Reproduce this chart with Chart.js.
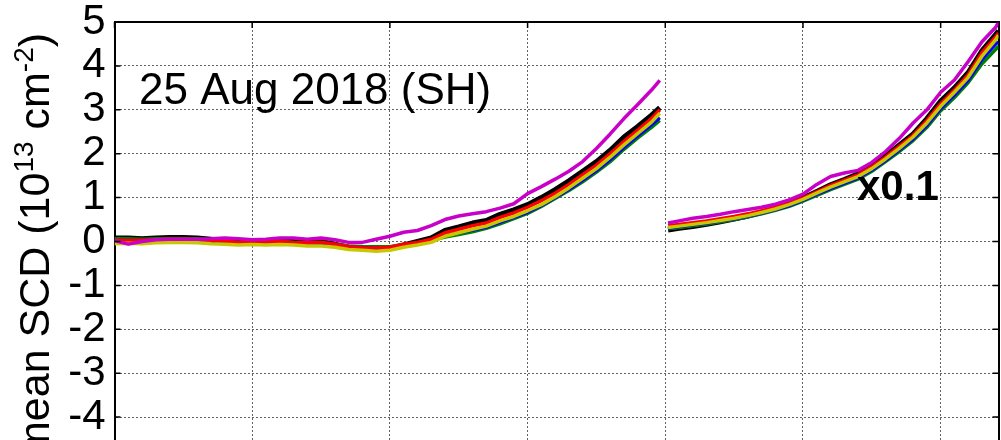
<!DOCTYPE html>
<html>
<head>
<meta charset="utf-8">
<script src="https://cdn.jsdelivr.net/npm/chart.js@4.4.1/dist/chart.umd.min.js"></script>
<style>
html,body{margin:0;padding:0;overflow:hidden;background:#fff;}
#wrap{position:relative;width:1001px;height:470px;}
</style>
</head>
<body>
<div id="wrap"><canvas id="c"></canvas></div>
<script>
// x positions (grid units) of the two measured segments
const xLow = [0,0.1,0.2,0.3,0.4,0.5,0.6,0.7,0.8,0.9,1.0,1.1,1.2,1.3,1.4,1.5,1.6,1.7,1.8,1.9,2.0,2.1,2.2,2.3,2.4,2.5,2.6,2.7,2.8,2.9,3.0,3.1,3.2,3.3,3.4,3.5,3.6,3.7,3.8,3.9,3.96];
const xHigh = [4.02,4.1,4.2,4.3,4.4,4.5,4.6,4.7,4.8,4.9,5.0,5.1,5.2,5.3,5.4,5.5,5.6,5.7,5.8,5.9,6.0,6.1,6.2,6.3,6.4,6.42];
const yTicks = [-5,-4,-3,-2,-1,0,1,2,3,4,5];

// series values (10^13 cm^-2); high segment is shown x0.1
const blackLow   = [0.08,0.08,0.06,0.08,0.09,0.09,0.08,0.05,0.02,0.00,0.02,0.01,0.03,0.00,-0.02,0.00,-0.06,-0.13,-0.15,-0.17,-0.16,-0.08,0.00,0.08,0.25,0.33,0.42,0.48,0.62,0.72,0.84,1.00,1.18,1.38,1.60,1.82,2.08,2.38,2.62,2.88,3.05];
const redLow     = [0.03,0.02,0.03,0.04,0.05,0.05,0.04,0.03,0.01,-0.02,0.00,-0.01,0.00,-0.02,-0.03,-0.02,-0.06,-0.12,-0.14,-0.15,-0.13,-0.06,-0.02,0.05,0.20,0.28,0.36,0.42,0.55,0.65,0.78,0.93,1.10,1.30,1.52,1.74,2.00,2.28,2.54,2.80,3.00];
const yellowLow  = [-0.05,-0.04,-0.05,-0.03,-0.02,-0.02,-0.03,-0.05,-0.06,-0.08,-0.07,-0.08,-0.07,-0.08,-0.10,-0.10,-0.13,-0.18,-0.20,-0.22,-0.20,-0.13,-0.08,-0.02,0.12,0.20,0.28,0.35,0.47,0.57,0.70,0.84,1.02,1.22,1.44,1.66,1.92,2.20,2.46,2.72,2.92];
const greenLow   = [0.06,0.06,0.05,0.06,0.07,0.07,0.06,0.03,0.00,-0.02,0.00,-0.01,0.01,-0.02,-0.04,-0.03,-0.06,-0.10,-0.12,-0.12,-0.12,-0.07,-0.03,0.03,0.10,0.16,0.22,0.30,0.40,0.52,0.64,0.80,0.98,1.16,1.36,1.58,1.82,2.10,2.36,2.60,2.76];
const blueLow    = [0.02,0.02,0.02,0.03,0.04,0.04,0.03,0.01,-0.01,-0.03,-0.02,-0.03,-0.02,-0.04,-0.05,-0.04,-0.08,-0.13,-0.15,-0.16,-0.15,-0.09,-0.05,0.02,0.14,0.20,0.26,0.33,0.44,0.55,0.67,0.82,1.00,1.19,1.40,1.62,1.87,2.15,2.41,2.66,2.82];
const magentaLow = [0.02,-0.06,0.00,0.04,0.05,0.05,0.05,0.06,0.08,0.06,0.04,0.05,0.08,0.08,0.05,0.08,0.04,-0.02,-0.02,0.05,0.12,0.21,0.25,0.36,0.50,0.58,0.63,0.68,0.76,0.86,1.09,1.25,1.42,1.60,1.82,2.12,2.45,2.80,3.12,3.45,3.67];

const blackHigh   = [0.26,0.30,0.34,0.39,0.45,0.51,0.58,0.66,0.75,0.86,0.99,1.14,1.29,1.41,1.54,1.72,1.95,2.20,2.45,2.80,3.20,3.50,3.85,4.35,4.72,4.80];
const redHigh     = [0.36,0.39,0.43,0.47,0.52,0.57,0.63,0.70,0.78,0.88,0.99,1.13,1.28,1.40,1.52,1.70,1.92,2.17,2.42,2.76,3.14,3.45,3.80,4.30,4.66,4.75];
const yellowHigh  = [0.32,0.35,0.39,0.43,0.48,0.53,0.59,0.66,0.74,0.84,0.96,1.10,1.24,1.36,1.48,1.66,1.88,2.12,2.38,2.70,3.08,3.40,3.74,4.22,4.60,4.70];
const greenHigh   = [0.29,0.32,0.36,0.40,0.45,0.50,0.56,0.63,0.71,0.80,0.92,1.05,1.18,1.30,1.42,1.60,1.82,2.05,2.30,2.60,2.98,3.28,3.62,4.05,4.38,4.45];
const blueHigh    = [0.31,0.34,0.38,0.42,0.47,0.52,0.58,0.65,0.73,0.82,0.94,1.08,1.21,1.33,1.45,1.63,1.85,2.09,2.34,2.65,3.03,3.34,3.68,4.15,4.50,4.55];
const magentaHigh = [0.42,0.47,0.53,0.57,0.62,0.68,0.73,0.78,0.85,0.95,1.08,1.30,1.48,1.56,1.62,1.80,2.05,2.35,2.70,3.00,3.40,3.68,4.10,4.55,4.88,5.00];

const FONT = "'Liberation Sans', Arial, Helvetica, sans-serif";

function series(low, high){
  const pts = xLow.map((x,i)=>({x:x, y:low[i]}));
  pts.push({x:(xLow[xLow.length-1]+xHigh[0])/2, y:null});
  return pts.concat(xHigh.map((x,i)=>({x:x, y:high[i]})));
}
function ds(low, high, color, w){
  return {data: series(low, high), borderColor: color, borderWidth: w, pointRadius: 0, tension: 0, spanGaps: false, fill: false, borderJoinStyle: 'round'};
}
function noPad(s){ s.paddingTop = 0; s.paddingBottom = 0; s.paddingLeft = 0; s.paddingRight = 0; }

const frameTicks = {
  id: 'frameTicks',
  afterDatasetsDraw(chart){
    const ctx = chart.ctx, a = chart.chartArea, y = chart.scales.y, x = chart.scales.x;
    ctx.save();
    ctx.strokeStyle = '#000'; ctx.lineWidth = 1.5;
    y.ticks.forEach(t => {
      const py = y.getPixelForValue(t.value);
      ctx.beginPath(); ctx.moveTo(a.left, py); ctx.lineTo(a.left+6, py);
      ctx.moveTo(a.right, py); ctx.lineTo(a.right-6, py); ctx.stroke();
    });
    x.ticks.forEach(t => {
      const px = x.getPixelForValue(t.value);
      ctx.beginPath(); ctx.moveTo(px, a.top); ctx.lineTo(px, a.top+6); ctx.stroke();
    });
    ctx.restore();
  }
};

const texts = {
  id: 'texts',
  afterDraw(chart){
    const ctx = chart.ctx;
    ctx.save();
    ctx.fillStyle = '#000';
    ctx.textBaseline = 'alphabetic';
    ctx.textAlign = 'left';
    ctx.font = "44px " + FONT;
    ctx.fillText('25 Aug 2018 (SH)', 139, 104);
    ctx.font = "bold 42px " + FONT;
    ctx.fillText('x0.1', 857, 200);
    // y axis title with superscripts
    ctx.translate(49, 457);
    ctx.rotate(-Math.PI/2);
    const big = "43px " + FONT, small = "28px " + FONT;
    const parts = [['mean SCD (10', big, 0], ['13', small, -16], [' cm', big, 0], ['-2', small, -16], [')', big, 0]];
    let cx = 0;
    parts.forEach(p => { ctx.font = p[1]; ctx.fillText(p[0], cx, p[2]); cx += ctx.measureText(p[0]).width; });
    ctx.restore();
  }
};

const gridStyle = {color: 'rgba(70,70,70,0.85)', lineWidth: 1, drawTicks: false};

new Chart(document.getElementById('c'), {
  type: 'line',
  data: {
    datasets: [
      ds(magentaLow, magentaHigh, '#c800c8', 3.5),
      ds(yellowLow, yellowHigh, '#c8c800', 3.5),
      ds(redLow, redHigh, '#ff0000', 3.5),
      ds(blueLow, blueHigh, '#0000ff', 3.5),
      ds(greenLow, greenHigh, '#008000', 3.5),
      ds(blackLow, blackHigh, '#000000', 5)
    ]
  },
  options: {
    responsive: true, maintainAspectRatio: false, animation: false,
    layout: {padding: 0},
    plugins: {legend: {display: false}, tooltip: {enabled: false}},
    scales: {
      x: {type: 'linear', position: 'bottom', min: 0, max: 6.42,
          afterBuildTicks: s => { s.ticks = [0,1,2,3,4,5,6].map(v => ({value: v})); },
          ticks: {display: false},
          grid: gridStyle,
          border: {display: true, color: '#000', width: 2, dash: [2,2]},
          afterFit: s => { s.height = 9; noPad(s); }},
      xTop: {type: 'linear', position: 'top', min: 0, max: 6.42,
          ticks: {display: false}, grid: {display: false, drawTicks: false},
          border: {display: true, color: '#000', width: 2},
          afterFit: s => { s.height = 22; noPad(s); }},
      y: {type: 'linear', position: 'left', min: -5, max: 5,
          afterBuildTicks: s => { s.ticks = yTicks.map(v => ({value: v})); },
          ticks: {color: '#000', font: {family: FONT, size: 42}, padding: 9, autoSkip: false},
          grid: gridStyle,
          border: {display: true, color: '#000', width: 2, dash: [2,2]},
          afterFit: s => { s.width = 114.5; noPad(s); }},
      yRight: {type: 'linear', position: 'right', min: -5, max: 5,
          ticks: {display: false}, grid: {display: false, drawTicks: false},
          border: {display: true, color: '#000', width: 2},
          afterFit: s => { s.width = 2.5; noPad(s); }}
    }
  },
  plugins: [frameTicks, texts]
});
</script>
</body>
</html>
